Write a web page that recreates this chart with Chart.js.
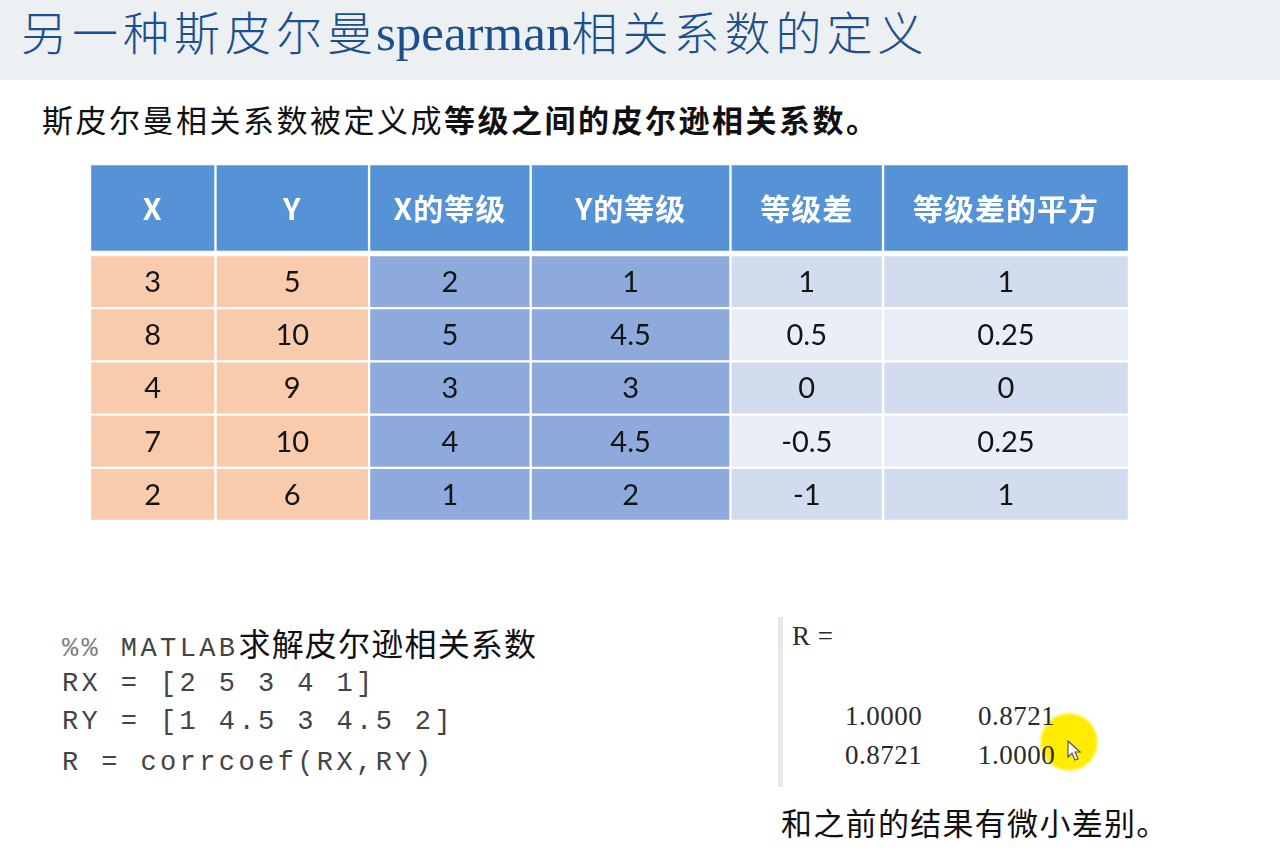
<!DOCTYPE html>
<html>
<head>
<meta charset="utf-8">
<script src="https://cdn.jsdelivr.net/npm/chart.js@4.4.1/dist/chart.umd.min.js"></script>
<style>
  body { margin: 0; background: #ffffff; }
  #page { position: relative; width: 1280px; height: 853px; overflow: hidden; background: #ffffff; }
  .band { position: absolute; left: 0; top: 0; width: 1280px; height: 80px; background: #edf0f3; }
  .title { position: absolute; left: 21px; top: 1px; height: 58px; line-height: 58px; white-space: nowrap;
    color: #1b4f8d; font-family: "Noto Sans CJK SC"; font-weight: 300; font-size: 46px; letter-spacing: 5px; }
  .title .lat { font-family: "Liberation Serif"; font-weight: 400; font-size: 51px; letter-spacing: 0; margin-left: -2px; }
  .subtitle { position: absolute; left: 42px; top: 99px; line-height: 40px; white-space: nowrap;
    font-family: "Noto Sans CJK SC"; font-size: 31px; letter-spacing: 2.5px; color: #111111; }
  .subtitle b { font-weight: 700; }
  .wrap { position: absolute; }
  #headWrap { left: 90px; top: 164px; width: 1039px; height: 88px; }
  #bodyWrap { left: 90px; top: 255px; width: 1039px; height: 266px; }
  .code { position: absolute; left: 62px; white-space: nowrap; font-family: "Liberation Mono"; font-size: 27px;
    letter-spacing: 3.4px; color: #444444; line-height: 40px; }
  .code .cmt { color: #808080; }
  .code .cjk { font-family: "Noto Sans CJK SC"; font-size: 32px; letter-spacing: 1.2px; color: #111111; }
  .vline { position: absolute; left: 778px; top: 617px; width: 5px; height: 170px; background: #e8e8e8; }
  .out { position: absolute; white-space: nowrap; font-family: "Liberation Serif"; font-size: 27px; letter-spacing: 0.5px;
    color: #2a2a2a; line-height: 30px; }
  .footer { position: absolute; left: 781px; top: 802px; line-height: 40px; white-space: nowrap;
    font-family: "Noto Sans CJK SC"; font-size: 31px; letter-spacing: 1.3px; color: #111111; }
  .spot { position: absolute; left: 1039px; top: 712px; width: 60px; height: 60px; border-radius: 50%;
    background: radial-gradient(circle, rgba(255,236,0,1) 62%, rgba(255,236,0,0.0) 72%); }
  .cursor { position: absolute; left: 1067px; top: 740px; }
</style>
</head>
<body>
<div id="page">
  <div class="band"></div>
  <div class="title">另一种斯皮尔曼<span class="lat">spearman</span>相关系数的定义</div>
  <div class="subtitle">斯皮尔曼相关系数被定义成<b>等级之间的皮尔逊相关系数。</b></div>

  <div class="wrap" id="headWrap"><canvas id="headChart"></canvas></div>
  <div class="wrap" id="bodyWrap"><canvas id="bodyChart"></canvas></div>

  <div class="code" style="top:622px"><span class="cmt">%%</span> MATLAB<span class="cjk">求解皮尔逊相关系数</span></div>
  <div class="code" style="top:664px">RX = [2 5 3 4 1]</div>
  <div class="code" style="top:702px">RY = [1 4.5 3 4.5 2]</div>
  <div class="code" style="top:743px">R = corrcoef(RX,RY)</div>

  <div class="vline"></div>
  <div class="spot"></div>
  <div class="out" style="left:792px; top:621px">R =</div>
  <div id="outMatrix"></div>
  <svg class="cursor" width="16" height="22" viewBox="0 0 16 22">
    <path d="M1 1 L1 17 L5 13 L8 20 L11 19 L8 12 L13 12 Z" fill="#ffffff" stroke="#555555" stroke-width="1.2"/>
  </svg>
  <div class="footer">和之前的结果有微小差别。</div>
</div>

<script>
// Table content
const headers = ["X", "Y", "X的等级", "Y的等级", "等级差", "等级差的平方"];
const xValues = [3, 8, 4, 7, 2];
const yValues = [5, 10, 9, 10, 6];
const xRanks = [2, 5, 3, 4, 1];
const yRanks = [1, 4.5, 3, 4.5, 2];
const rankDiff = [1, 0.5, 0, -0.5, -1];
const rankDiffSq = [1, 0.25, 0, 0.25, 1];

// MATLAB output matrix
const corrRow1 = ["1.0000", "0.8721"];
const corrRow2 = ["0.8721", "1.0000"];

// Layout / style (not data)
const colWidths = [125, 153, 161, 199, 152, 245];
const headerColor = "#5593d6";
const orangeCell = "#f8cbad";
const blueCell = "#8eaadc";
const lightCells = ["#d1ddef", "#e9eef7"];

const columns = [xValues, yValues, xRanks, yRanks, rankDiff, rankDiffSq];
const rowLabels = xValues.map((v, i) => "row" + (i + 1));

function bodyColor(row, col) {
  if (col < 2) return orangeCell;
  if (col < 4) return blueCell;
  return lightCells[row % 2];
}

// Draw the text of every cell in the middle of its bar
const cellLabels = {
  id: "cellLabels",
  afterDatasetsDraw(chart, args, opts) {
    const ctx = chart.ctx;
    ctx.save();
    ctx.font = opts.font;
    ctx.fillStyle = opts.color;
    ctx.textAlign = "center";
    ctx.textBaseline = "middle";
    if ("letterSpacing" in ctx) ctx.letterSpacing = opts.spacing;
    chart.data.datasets.forEach((ds, j) => {
      chart.getDatasetMeta(j).data.forEach((bar, i) => {
        const p = bar.getProps(["x", "y", "base"], true);
        ctx.fillText(ds.cellText[i], (p.x + p.base) / 2, p.y + opts.dy);
      });
    });
    ctx.restore();
  }
};

function makeTable(canvasId, labels, textFn, colorFn, font, color, dy, spacing) {
  const total = colWidths.reduce((a, b) => a + b, 0);
  const datasets = colWidths.map((w, j) => ({
    label: headers[j],
    data: labels.map(() => w),
    cellText: labels.map((_, i) => textFn(i, j)),
    backgroundColor: labels.map((_, i) => colorFn(i, j)),
    borderColor: "#ffffff",
    borderWidth: 1.5,
    borderSkipped: false,
    barPercentage: 1,
    categoryPercentage: 1
  }));
  new Chart(document.getElementById(canvasId), {
    type: "bar",
    data: { labels: labels, datasets: datasets },
    options: {
      indexAxis: "y",
      responsive: true,
      maintainAspectRatio: false,
      animation: false,
      layout: { padding: 0 },
      plugins: {
        legend: { display: false },
        tooltip: { enabled: false },
        cellLabels: { font: font, color: color, dy: dy, spacing: spacing }
      },
      scales: {
        x: { stacked: true, display: false, min: 0, max: total },
        y: { stacked: true, display: false }
      }
    },
    plugins: [cellLabels]
  });
}

makeTable("headChart", ["header"], (i, j) => headers[j], () => headerColor,
  "bold 30px 'Noto Sans CJK SC'", "#ffffff", 1, "1px");
makeTable("bodyChart", rowLabels, (i, j) => String(columns[j][i]), bodyColor,
  "29px Lato", "#141414", 1, "0px");

// MATLAB result numbers
const outMatrix = document.getElementById("outMatrix");
[corrRow1, corrRow2].forEach((row, r) => {
  row.forEach((val, c) => {
    const d = document.createElement("div");
    d.className = "out";
    d.style.left = (845 + c * 133) + "px";
    d.style.top = (701 + r * 39) + "px";
    d.textContent = val;
    outMatrix.appendChild(d);
  });
});
</script>
</body>
</html>
